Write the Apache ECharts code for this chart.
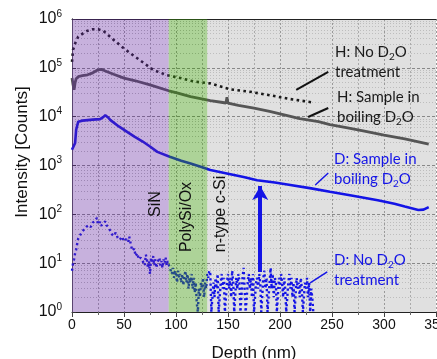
<!DOCTYPE html>
<html><head><meta charset="utf-8">
<script src="https://cdn.jsdelivr.net/npm/echarts@6/dist/echarts.min.js"></script>
<style>html,body{margin:0;padding:0;background:#fff}#c{width:437px;height:359px}</style>
</head><body><div id="c"></div>
<script>
// ---- data ----
const hNoDepth = [0,1,3,6,11,15,20,25,30,38,48,56,67,78,91,104,117,133,152,171,190,210,232];
const hNoVal = [132000,234000,316000,437000,513000,575000,617000,617000,575000,407000,269000,200000,135000,91000,71000,62000,52500,48000,36300,32400,27500,22900,19500];

const hBoilDepth = [0,1,2,3,4,6,10,15,20,25,28,30,32,40,50,60,75,93,100,114,133,145,148,149,150,160,175,190,205,219,237,248,265,280,300,320,343];
const hBoilVal = [61700,45000,35500,50000,60000,66000,69000,72000,79000,91000,93000,90000,86000,74000,61700,55000,44700,33900,31000,25700,21400,19500,19000,25000,19000,17000,15000,12900,10800,9100,7900,6900,5900,5100,4200,3500,2750];

const dBoilDepth = [0,3,4,6,10,20,27,30,32,35,37,45,53,60,68,75,82,94,105,114,123,133,150,165,178,195,210,230,248,270,294,310,320,333,338,343];
const dBoilVal = [2100,2900,5400,7900,8300,8700,8900,9800,10700,9500,8500,6300,4900,3900,3100,2450,1900,1510,1250,1100,955,810,680,580,500,450,400,340,290,240,195,165,145,123,125,141];

const dNoDepth = [0,1,2,3,4,5,6,8,10,12,14,16,18,20,22,24,25,27,28,30,32,33,35,37,38,40,42,44,46,48,50,52,54,55,57,58,60,61,63,64,66,68,70,71,72,73,74,75,76,77,78,79,80,81,82,84,85,86,87,88,89,90,91,92,
  94,95,96,97,98,99,100,101,102,103,104,105,106,107,108,109,110,111,112,113,114,115,116,117,118,119,120,121,122,123,124,125,126,127,128,129,130,131,132,
  133,134,136,137,138,139,140,141,143,144,145,146,147,149,150,151,152,153,154,155,156,158,159,160,161,162,164,165,166,167,169,170,171,172,173,174,175,177,178,179,180,181,182,184,185,186,187,188,190,191,192,193,194,195,196,197,199,200,201,202,203,204,205,206,208,209,210,211,212,213,214,216,217,218,219,220,221,222,224,225,226,227,228,229,230,231,232];
const dNoVal = [7,10,12,16,19,25,32,38,45,50,56,60,55,68,72,85,62,70,58,66,72,60,55,45,40,36,42,33,30,35,28,31,27,35,22,18,20,14,16,12,13,11,9,15,12,8,11,6,13,10,14,9,12,8,10,13,9,11,8,12,10,13,9,11,
  8,7,6,8,5,7,6,4,7,5,6,4,6,3.5,5,7,4,6,3,5,4,6,3,5,2.5,4,1.5,1,3,2,4,3,5,2,4,3,6,5,7,
  6,1,4,2,5,3,6,1,4,6,3,5,1,4,6,3,5,2,7,4,1,5,3,6,4,1,5,8,3,1,4,6,3,5,2,6,1,4,5,3,6,4,1,5,7,3,5,1,4,8,3,6,2,5,4,1,5,3,6,4,2,5,3,1,4,6,3,5,2,4,1,5,3,4,2,5,3,1,4,3,5,2,4,1,3,2,1];

const regionNames = ['SiN', 'PolySi/Ox', 'n-type c-Si'];
const regionBounds = [[0, 93], [93, 130], [130, 350]];
const xTicks = [0, 50, 100, 150, 200, 250, 300, 350];
const yDecades = [0, 1, 2, 3, 4, 5, 6];

const FF = 'Liberation Sans, Arial, sans-serif';
const FA = 'Lato, sans-serif';
const BLUE = '#1414e6';

const zip = (a, b) => a.map((v, i) => [v, b[i]]);
const minorY = [];
for (let k = 0; k < 6; k++) for (let m = 2; m <= 9; m++) minorY.push(m * Math.pow(10, k));

const chart = echarts.init(document.getElementById('c'));
const annRich = (color) => ({
  a: {fontSize: 15, lineHeight: 20, fontFamily: FA, color: color},
  s: {fontSize: 10, lineHeight: 11, verticalAlign: 'bottom', fontFamily: FA, color: color}
});
function ann(x, y, text, color) {
  return {type: 'text', x: x, y: y, z: 100,
    style: {text: text, rich: annRich(color), fill: color, align: 'left', verticalAlign: 'top'}};
}
function vlabel(x, y, text) {
  return {type: 'text', x: x, y: y, rotation: Math.PI / 2, z: 100,
    style: {text: text, font: '16px ' + FF, fill: '#111', align: 'center', verticalAlign: 'middle'}};
}

chart.setOption({
  animation: false,
  grid: {left: 72, top: 19, right: 1, bottom: 47, show: false, containLabel: false, outerBoundsMode: 'none'},
  xAxis: [{
    type: 'value', min: xTicks[0], max: xTicks[xTicks.length - 1], interval: 50, z: 2,
    axisLine: {show: true, lineStyle: {color: '#222', width: 1}},
    axisTick: {show: true, inside: false, length: 5, lineStyle: {color: '#444'}},
    minorTick: {show: true, splitNumber: 2, length: 3, lineStyle: {color: '#666'}},
    axisLabel: {fontSize: 14, fontFamily: FF, color: '#111', margin: 6},
    splitLine: {show: true, lineStyle: {color: '#999', type: [2, 2], width: 1}},
    minorSplitLine: {show: true, lineStyle: {color: '#aaa', type: [2, 2], width: 1}},
    name: 'Depth (nm)', nameLocation: 'middle', nameGap: 33, nameMoveOverlap: false,
    nameTextStyle: {fontSize: 17, fontFamily: FF, color: '#111'}
  }, {
    type: 'value', position: 'top', min: 0, max: 350, z: 2,
    axisLine: {show: true, lineStyle: {color: '#222', width: 1}},
    axisTick: {show: false}, axisLabel: {show: false}, splitLine: {show: false}
  }],
  yAxis: [{
    type: 'log', logBase: 10, min: Math.pow(10, yDecades[0]), max: Math.pow(10, yDecades[yDecades.length - 1]), z: 2,
    axisLine: {show: true, lineStyle: {color: '#222', width: 1}},
    axisTick: {show: true, inside: true, length: 4, lineStyle: {color: '#333'}},
    axisLabel: {
      margin: 10,
      formatter: v => '{b|10}{p|' + Math.round(Math.log10(v)) + '}',
      rich: {
        b: {fontSize: 16, lineHeight: 20, fontFamily: FF, color: '#111'},
        p: {fontSize: 10, lineHeight: 11, verticalAlign: 'top', fontFamily: FF, color: '#111'}
      }
    },
    splitLine: {show: true, lineStyle: {color: '#888', type: [3, 2], width: 1}}
  }, {
    type: 'value', position: 'right', min: 0, max: 1, z: 2,
    axisLine: {show: true, lineStyle: {color: '#555', width: 1}},
    axisTick: {show: false}, axisLabel: {show: false}, splitLine: {show: false}
  }],
  series: [
    {
      type: 'line', data: [], silent: true,
      markArea: {z: 1, silent: true, data: [[{xAxis: regionBounds[2][0], itemStyle: {color: '#e0e0e0'}}, {xAxis: regionBounds[2][1]}]]}
    },
    {
      name: 'H: No D2O treatment', type: 'line', data: zip(hNoDepth, hNoVal), showSymbol: false, z: 3,
      lineStyle: {color: '#1a1a1a', width: 2.6, type: [2.6, 3.4]}
    },
    {
      name: 'H: Sample in boiling D2O', type: 'line', data: zip(hBoilDepth, hBoilVal), showSymbol: false, z: 3,
      lineStyle: {color: '#555555', width: 2.8}
    },
    {
      name: 'D: Sample in boiling D2O', type: 'line', data: zip(dBoilDepth, dBoilVal), showSymbol: false, z: 3,
      lineStyle: {color: BLUE, width: 2.6}
    },
    {
      name: 'D: No D2O treatment', type: 'line', data: zip(dNoDepth, dNoVal), showSymbol: false, z: 3,
      lineStyle: {color: BLUE, width: 2.4, type: [2.2, 3]}
    },
    {
      type: 'line', data: [], silent: true,
      markArea: {z: 4, silent: true, data: [
        [{xAxis: regionBounds[0][0], itemStyle: {color: 'rgba(100,40,160,0.36)'}}, {xAxis: regionBounds[0][1]}],
        [{xAxis: regionBounds[1][0], itemStyle: {color: 'rgba(60,150,10,0.42)'}}, {xAxis: regionBounds[1][1]}]
      ]}
    },
    {
      type: 'line', data: [], silent: true,
      markLine: {z: 2, silent: true, symbol: 'none', label: {show: false},
        lineStyle: {color: '#bdbdbd', type: [1, 2], width: 1},
        data: minorY.map(v => ({yAxis: v}))}
    },
    {
      type: 'line', data: [], silent: true,
      markLine: {z: 6, silent: true, symbol: ['none', 'none'], label: {show: false}, data: [
        [{coord: [215.6, 35200], lineStyle: {color: '#111', width: 2, type: 'solid'}}, {coord: [246.4, 82200]}],
        [{coord: [227.1, 9850], lineStyle: {color: '#111', width: 2, type: 'solid'}}, {coord: [246.4, 15060]}],
        [{coord: [233.9, 400], lineStyle: {color: BLUE, width: 1.5, type: 'solid'}}, {coord: [246.4, 703]}],
        [{coord: [229, 3.93], lineStyle: {color: BLUE, width: 1.5, type: 'solid'}}, {coord: [245.4, 6.6]}],
        [{coord: [181, 6.6], symbol: 'none', lineStyle: {color: BLUE, width: 4, type: 'solid'}},
         {coord: [181, 380], symbol: 'arrow', symbolSize: [12, 14]}]
      ]}
    }
  ],
  graphic: [
    ann(335, 42, '{a|H: No D}{s|2}{a|O}\n{a|treatment}', '#1a1a1a'),
    ann(337, 87, '{a|H: Sample in}\n{a|boiling D}{s|2}{a|O}', '#1a1a1a'),
    ann(334, 149, '{a|D: Sample in}\n{a|boiling D}{s|2}{a|O}', BLUE),
    ann(334, 250, '{a|D: No D}{s|2}{a|O}\n{a|treatment}', BLUE),
    vlabel(156, 204, regionNames[0]),
    vlabel(187, 217, regionNames[1]),
    vlabel(221, 214, regionNames[2]),
    {type: 'text', x: 22, y: 152, rotation: Math.PI / 2, z: 100,
      style: {text: 'Intensity [Counts]', font: '17px ' + FF, fill: '#111', align: 'center', verticalAlign: 'middle'}}
  ]
});
</script></body></html>
